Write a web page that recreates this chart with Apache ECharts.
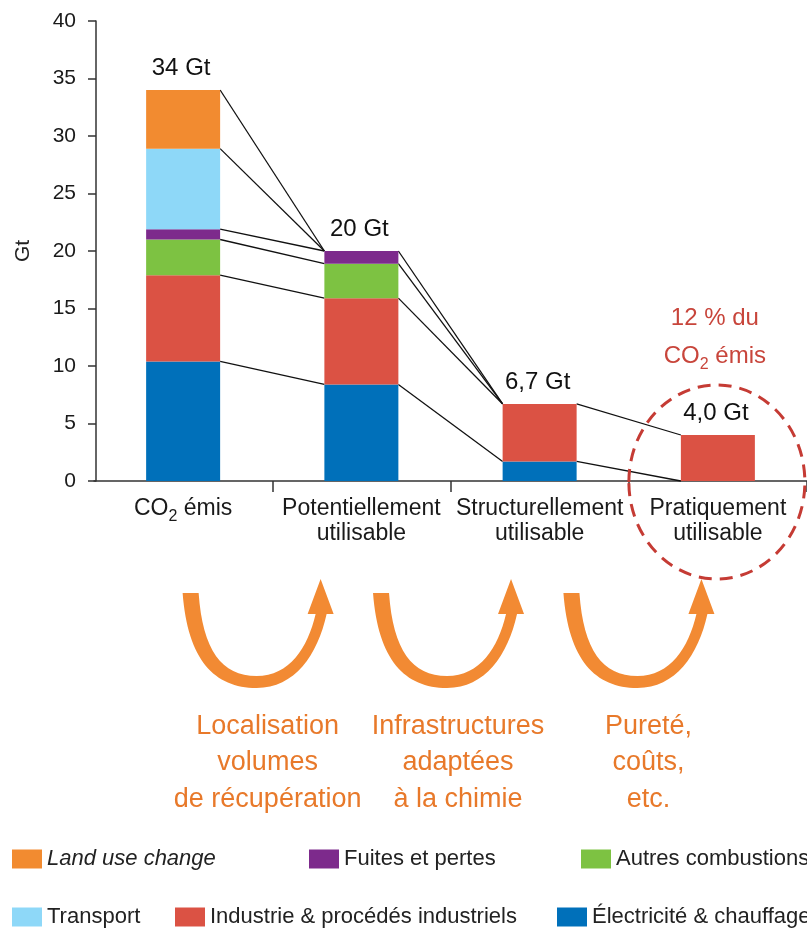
<!DOCTYPE html>
<html>
<head>
<meta charset="utf-8">
<script src="https://cdn.jsdelivr.net/npm/echarts@6/dist/echarts.min.js"></script>
<style>
  html, body { margin: 0; padding: 0; background: #fff; }
  #chart { width: 807px; height: 929px; }
</style>
</head>
<body>
<div id="chart"></div>
<script>
// CO2 : du total émis au pratiquement utilisable (Gt)
const categories = ['CO2 émis', 'Potentiellement\nutilisable', 'Structurellement\nutilisable', 'Pratiquement\nutilisable']
const elec = [10.4, 8.4, 1.7, 0]
const industrie = [7.5, 7.5, 5.0, 4.0]
const autres = [3.1, 3.0, 0, 0]
const fuites = [0.9, 1.1, 0, 0]
const transport = [7.0, 0, 0, 0]
const landUse = [5.1, 0, 0, 0]
const totalLabels = ['34 Gt', '20 Gt', '6,7 Gt', '4,0 Gt']
const yMin = 0
const yMax = 40
const yStep = 5
const stepLabels = ['Localisation\nvolumes\nde récupération', 'Infrastructures\nadaptées\nà la chimie', 'Pureté,\ncoûts,\netc.']
const noteLines = ['12 % du', 'CO2 émis']

const FONT = 'Liberation Sans'
const BAR_W = 74
const STEP_GAP = 190.4

// ordre d'empilement : du bas vers le haut
const seriesDefs = [
  { name: 'Électricité & chauffage', data: elec, color: '#0070BA' },
  { name: 'Industrie & procédés industriels', data: industrie, color: '#DB5244' },
  { name: 'Autres combustions', data: autres, color: '#7DC242' },
  { name: 'Fuites et pertes', data: fuites, color: '#7D2A8C' },
  { name: 'Transport', data: transport, color: '#8ED8F8' },
  { name: 'Land use change', data: landUse, color: '#F28B30' }
]

// cumuls pour les traits de liaison et les totaux
const cum = []
seriesDefs.forEach((s, k) => {
  cum.push(s.data.map((v, i) => Math.round((v + (k > 0 ? cum[k - 1][i] : 0)) * 100) / 100))
})
const links = []
const seen = {}
for (let i = 0; i < categories.length - 1; i++) {
  cum.forEach(c => {
    const key = i + '_' + c[i] + '_' + c[i + 1]
    if (!seen[key]) {
      seen[key] = true
      links.push([i, c[i], c[i + 1]])
    }
  })
}
const totals = cum[cum.length - 1].map((v, i) => [i, v])

// mise en forme "CO2" avec indice
function co2(line, base, sub) {
  if (line.indexOf('CO2') === 0) {
    return '{' + base + '|CO}{' + sub + '|2}{' + base + '|' + line.slice(3) + '}'
  }
  return '{' + base + '|' + line + '}'
}

const legends = [
  ['Land use change', 12, 848, 'italic'],
  ['Fuites et pertes', 309, 848, 'normal'],
  ['Autres combustions', 581, 848, 'normal'],
  ['Transport', 12, 906, 'normal'],
  ['Industrie & procédés industriels', 175, 906, 'normal'],
  ['Électricité & chauffage', 557, 906, 'normal']
].map(l => ({
  data: [l[0]],
  left: l[1],
  top: l[2],
  padding: 0,
  icon: 'rect',
  itemWidth: 30,
  itemHeight: 19,
  selectedMode: false,
  textStyle: { fontSize: 22, color: '#222', fontFamily: FONT, fontStyle: l[3] }
}))

const arrowPath = 'M0,0 C5,67 32,95 74,95 C112,95 135,62 144,21 L151,21 L138,-14 L125,21 L133,21 ' +
  'C125,55 107,83 74,83 C39,83 20,57 16,0 Z'

const option = {
  animation: false,
  textStyle: { fontFamily: FONT },
  legend: legends,
  grid: { left: 94, top: 21, width: 716, height: 460, containLabel: false },
  xAxis: {
    type: 'category',
    data: categories,
    boundaryGap: true,
    axisLine: { lineStyle: { color: '#333', width: 1.5 } },
    axisTick: { show: true, length: 11, interval: (i) => i > 0, lineStyle: { color: '#333', width: 1.5 } },
    axisLabel: {
      interval: 0,
      margin: 15,
      formatter: v => v.split('\n').map(l => co2(l, 'a', 's')).join('\n'),
      rich: {
        a: { fontSize: 23, lineHeight: 25, color: '#1a1a1a', fontFamily: FONT },
        s: { fontSize: 16, lineHeight: 16, color: '#1a1a1a', fontFamily: FONT, verticalAlign: 'bottom', padding: [0, 0, -4, 0] }
      }
    }
  },
  yAxis: {
    type: 'value',
    min: yMin,
    max: yMax,
    interval: yStep,
    offset: -2,
    name: 'Gt',
    nameLocation: 'middle',
    nameGap: 62,
    nameTextStyle: { fontSize: 21, color: '#222', fontFamily: FONT },
    axisLine: { show: true, lineStyle: { color: '#333', width: 1.5 } },
    axisTick: { show: true, length: 8, lineStyle: { color: '#333', width: 1.5 } },
    splitLine: { show: false },
    axisLabel: { fontSize: 21, margin: 20, color: '#1a1a1a', fontFamily: FONT }
  },
  series: seriesDefs.map(s => ({
    name: s.name,
    type: 'bar',
    stack: 'co2',
    barWidth: BAR_W,
    data: s.data,
    itemStyle: { color: s.color }
  })).concat([
    {
      // traits entre les barres
      type: 'custom',
      name: 'liens',
      data: links,
      encode: { x: 0, y: 1 },
      z: 1,
      renderItem: (params, api) => {
        const a = api.coord([api.value(0), api.value(1)])
        const b = api.coord([api.value(0) + 1, api.value(2)])
        return {
          type: 'line',
          shape: { x1: a[0] + BAR_W / 2, y1: a[1], x2: b[0] - BAR_W / 2, y2: b[1] },
          style: { stroke: '#111', lineWidth: 1.3 }
        }
      }
    },
    {
      // totaux au-dessus des barres
      type: 'custom',
      name: 'totaux',
      data: totals,
      encode: { x: 0, y: 1 },
      renderItem: (params, api) => {
        const p = api.coord([api.value(0), api.value(1)])
        return {
          type: 'text',
          x: p[0] - 2,
          y: p[1] - 22,
          style: {
            text: totalLabels[params.dataIndex],
            fontSize: 24,
            fontFamily: FONT,
            fill: '#111',
            align: 'center',
            verticalAlign: 'middle'
          }
        }
      }
    },
    {
      // flèches orange sous l'axe
      type: 'custom',
      name: 'fleches',
      data: stepLabels.map((t, i) => [i, 0]),
      encode: { x: 0, y: 1 },
      clip: false,
      silent: true,
      renderItem: (params, api) => {
        const p = api.coord([0, 0])
        return {
          type: 'path',
          x: p[0] - 0.5 + STEP_GAP * params.dataIndex,
          y: 593,
          shape: { pathData: arrowPath },
          style: { fill: '#F28A33', stroke: 'none' }
        }
      }
    }
  ])
}

const chart = echarts.init(document.getElementById('chart'))
chart.setOption(option)

// annotations : cercle, note rouge et étapes
const o = chart.convertToPixel({ gridIndex: 0 }, [categories.length - 1, 0])
const first = chart.convertToPixel({ gridIndex: 0 }, [0, 0])
const graphics = [
  {
    type: 'ellipse',
    shape: { cx: o[0] - 1, cy: o[1] + 1, rx: 88, ry: 97 },
    style: { fill: 'none', stroke: '#C53B34', lineWidth: 3, lineDash: [13, 8] },
    z: 10
  },
  {
    type: 'text',
    x: o[0] - 3,
    y: 299,
    z: 10,
    style: {
      text: noteLines.map(l => co2(l, 'r', 'rs')).join('\n'),
      align: 'center',
      verticalAlign: 'top',
      rich: {
        r: { fontSize: 24, lineHeight: 38, fill: '#C8453B', fontFamily: FONT },
        rs: { fontSize: 16, lineHeight: 16, fill: '#C8453B', fontFamily: FONT, verticalAlign: 'bottom', padding: [0, 0, 2, 0] }
      }
    }
  }
]
stepLabels.forEach((txt, i) => {
  graphics.push({
    type: 'text',
    x: first[0] + 84.5 + STEP_GAP * i,
    y: 708,
    style: {
      text: txt,
      align: 'center',
      verticalAlign: 'top',
      fontSize: 27,
      lineHeight: 36.5,
      fontFamily: FONT,
      fill: '#E8792A'
    }
  })
})
chart.setOption({ graphic: graphics })
</script>
</body>
</html>
